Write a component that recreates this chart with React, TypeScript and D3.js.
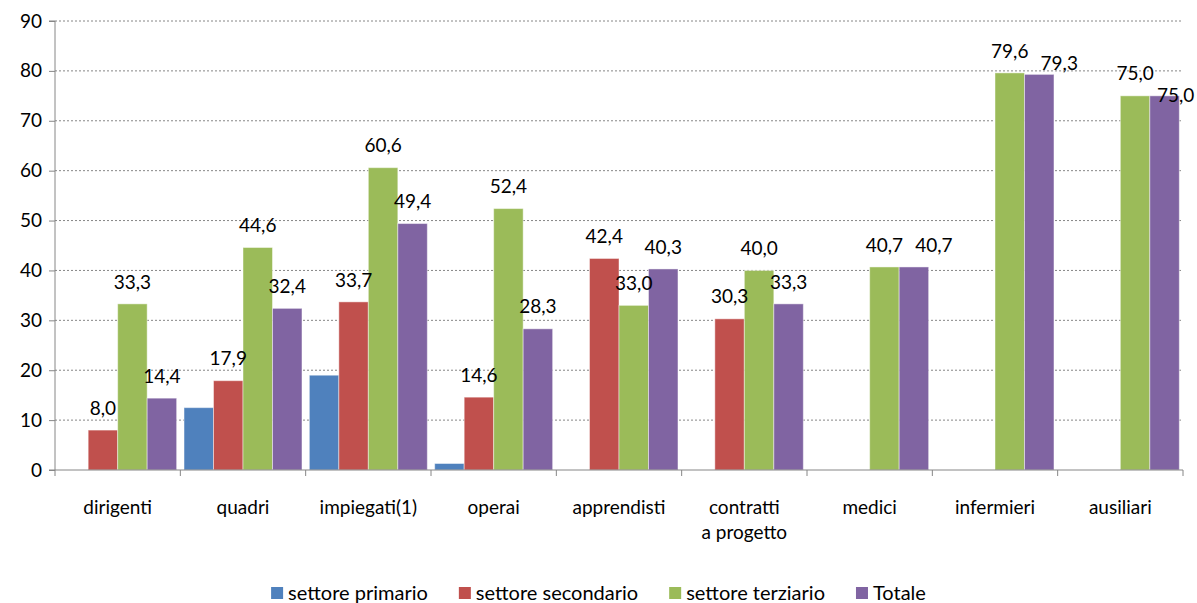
import React, { useRef, useEffect } from "react";
import * as d3 from "d3";

const categories = ["dirigenti", "quadri", "impiegati(1)", "operai", "apprendisti", "contratti\na progetto", "medici", "infermieri", "ausiliari"];
const seriesNames = ["settore primario", "settore secondario", "settore terziario", "Totale"];
const primario = [null, 12.5, 19.0, 1.3, null, null, null, null, null];
const secondario = [8.0, 17.9, 33.7, 14.6, 42.4, 30.3, null, null, null];
const terziario = [33.3, 44.6, 60.6, 52.4, 33.0, 40.0, 40.7, 79.6, 75.0];
const totale = [14.4, 32.4, 49.4, 28.3, 40.3, 33.3, 40.7, 79.3, 75.0];
const yTicks = [0, 10, 20, 30, 40, 50, 60, 70, 80, 90];

const colors = ["#4F81BD", "#C0504D", "#9BBB59", "#8064A2"];
// which series get value labels
const labelled = [false, true, true, true];
// labels Excel pushed aside to avoid overlap
const labelNudge: Record<string, [number, number]> = {
  "medici|Totale": [20, 0],
  "infermieri|Totale": [20, 11],
  "ausiliari|Totale": [11, 22],
};

const W = 1197;
const H = 603;
const margin = { top: 21, right: 14, bottom: 133, left: 55 };
const FONT = "Lato, 'Open Sans', sans-serif";

const App = () => {
  const canvas = useRef<SVGSVGElement>(null);

  useEffect(() => {
    const svg = d3.select(canvas.current);
    svg.selectAll("*").remove();

    const innerW = W - margin.left - margin.right;
    const innerH = H - margin.top - margin.bottom;
    const allSeries = [primario, secondario, terziario, totale];

    const x0 = d3.scaleBand<string>().domain(categories).range([0, innerW]).padding(0);
    const x1 = d3.scaleBand<string>().domain(seriesNames).range([0, x0.bandwidth()]).paddingInner(0).paddingOuter(0.125);
    const y = d3.scaleLinear().domain([0, 90]).range([innerH, 0]);

    const g = svg.append("g").attr("transform", "translate(" + margin.left + "," + margin.top + ")");

    // grid
    g.selectAll(".grid")
      .data(yTicks.filter(t => t > 0))
      .enter().append("line")
      .attr("x1", 0).attr("x2", innerW)
      .attr("y1", d => y(d)).attr("y2", d => y(d))
      .attr("stroke", "#868686").attr("stroke-width", 1)
      .attr("stroke-dasharray", "2,2");

    // bars
    allSeries.forEach((vals, si) => {
      const name = seriesNames[si];
      const pts = categories.map((c, i) => ({ c, v: vals[i] })).filter(d => d.v != null) as { c: string; v: number }[];
      g.selectAll(".bar" + si)
        .data(pts)
        .enter().append("rect")
        .attr("x", d => (x0(d.c) as number) + (x1(name) as number))
        .attr("y", d => y(d.v))
        .attr("width", x1.bandwidth())
        .attr("height", d => innerH - y(d.v))
        .attr("fill", colors[si])
        .attr("stroke", "rgba(255,255,255,0.45)")
        .attr("stroke-width", 1);
    });

    // labels
    const fmt = (v: number) => d3.format(".1f")(v).replace(".", ",");
    allSeries.forEach((vals, si) => {
      if (!labelled[si]) return;
      const name = seriesNames[si];
      const pts = categories.map((c, i) => ({ c, v: vals[i] })).filter(d => d.v != null) as { c: string; v: number }[];
      g.selectAll(".lab" + si)
        .data(pts)
        .enter().append("text")
        .attr("x", d => {
          const n = labelNudge[d.c + "|" + name];
          return (x0(d.c) as number) + (x1(name) as number) + x1.bandwidth() / 2 + (n ? n[0] : 0);
        })
        .attr("y", d => {
          const n = labelNudge[d.c + "|" + name];
          return y(d.v) - 22 + (n ? n[1] : 0);
        })
        .attr("dy", "0.35em")
        .attr("text-anchor", "middle")
        .attr("font-family", FONT)
        .attr("font-size", 19)
        .attr("fill", "#000")
        .text(d => fmt(d.v));
    });

    // y axis
    const yAxis = g.append("g").call(d3.axisLeft(y).tickValues(yTicks).tickSize(6).tickPadding(7));
    yAxis.select(".domain").attr("stroke", "#868686").attr("d", "M-6," + innerH + "H0V0H-6");
    yAxis.selectAll(".tick line").attr("stroke", "#868686");
    yAxis.selectAll("text").attr("font-family", FONT).attr("font-size", 19).attr("fill", "#000");

    // x axis
    const xg = g.append("g").attr("transform", "translate(0," + innerH + ")");
    xg.append("line").attr("x1", 0).attr("x2", innerW).attr("stroke", "#868686");
    xg.selectAll(".xt")
      .data(d3.range(categories.length + 1))
      .enter().append("line")
      .attr("x1", i => i * x0.step()).attr("x2", i => i * x0.step())
      .attr("y1", 0).attr("y2", 6)
      .attr("stroke", "#868686");
    const xl = xg.selectAll(".xl")
      .data(categories)
      .enter().append("text")
      .attr("x", d => (x0(d) as number) + x0.bandwidth() / 2)
      .attr("y", 37)
      .attr("text-anchor", "middle")
      .attr("font-family", FONT)
      .attr("font-size", 19)
      .attr("fill", "#000");
    xl.each(function (d) {
      const lines = d.split("\n");
      const t = d3.select(this);
      lines.forEach((ln, k) => {
        t.append("tspan")
          .attr("x", (x0(d) as number) + x0.bandwidth() / 2)
          .attr("dy", k === 0 ? "0.35em" : 25)
          .text(ln);
      });
    });

    // legend
    const leg = svg.append("g").attr("transform", "translate(0,593)");
    const items = leg.selectAll(".li").data(seriesNames).enter().append("g");
    items.append("rect").attr("y", -6).attr("width", 12).attr("height", 12).attr("fill", (d, i) => colors[i]);
    items.append("text")
      .attr("x", 17).attr("dy", "0.33em")
      .attr("font-family", FONT).attr("font-size", 20).attr("fill", "#000")
      .text(d => d);
    const widths: number[] = [];
    items.each(function () {
      widths.push((this as SVGGElement).getBBox().width);
    });
    const gap = 31;
    const total = d3.sum(widths) + gap * (widths.length - 1);
    let cx = W / 2 - total / 2;
    items.attr("transform", (d, i) => {
      const tx = cx;
      cx += widths[i] + gap;
      return "translate(" + tx + ",0)";
    });
  }, []);

  return (
    <svg ref={canvas} width={W} height={H} style={{ position: "absolute", left: 0, top: 0, background: "#fff" }}></svg>
  );
};

export default App;
